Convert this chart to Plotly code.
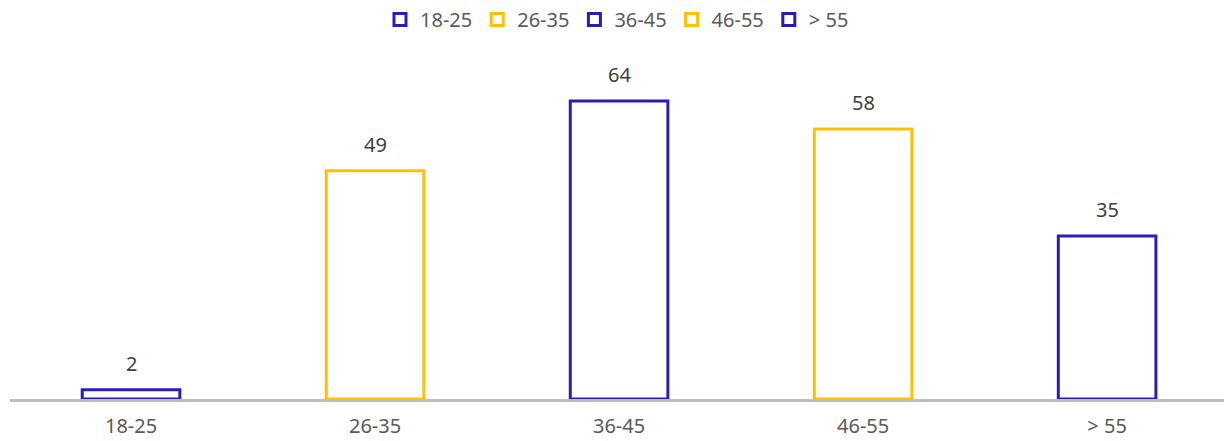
import plotly.graph_objects as go

categories = ["18-25", "26-35", "36-45", "46-55", "> 55"]
values = [2, 49, 64, 58, 35]
colors = ["#2B1CB8", "#FFC000", "#2B1CB8", "#FFC000", "#2B1CB8"]

fig = go.Figure()
for c, v, col in zip(categories, values, colors):
    fig.add_trace(go.Bar(
        x=[c], y=[v], name=c, width=0.4,
        marker=dict(color="rgba(0,0,0,0)", line=dict(color=col, width=3)),
        cliponaxis=False,
    ))
    fig.add_annotation(x=c, y=v, text=str(v), showarrow=False, yanchor="bottom",
                       yshift=11, font=dict(size=20, color="#404040"))

fig.update_layout(
    width=1224, height=441,
    margin=dict(l=10, r=0, t=40, b=42),
    paper_bgcolor="white", plot_bgcolor="white",
    barmode="overlay",
    font=dict(family="Noto Sans, sans-serif", size=20, color="#595959"),
    legend=dict(orientation="h", x=0.5, xanchor="center", y=1.0, yanchor="top",
                yref="container", font=dict(size=20, color="#595959"),
                itemwidth=30),
    xaxis=dict(range=[-0.496, 4.479], showline=True, linecolor="#BFBFBF", linewidth=3,
               showgrid=False, ticks="outside", ticklen=7, tickcolor="rgba(0,0,0,0)",
               tickfont=dict(size=20, color="#595959"), automargin=False),
    yaxis=dict(range=[0, 77.1], visible=False, showgrid=False, automargin=False),
)

fig.write_html("out.html", config={"displayModeBar": False},
               post_script="document.body.style.margin='0';")
